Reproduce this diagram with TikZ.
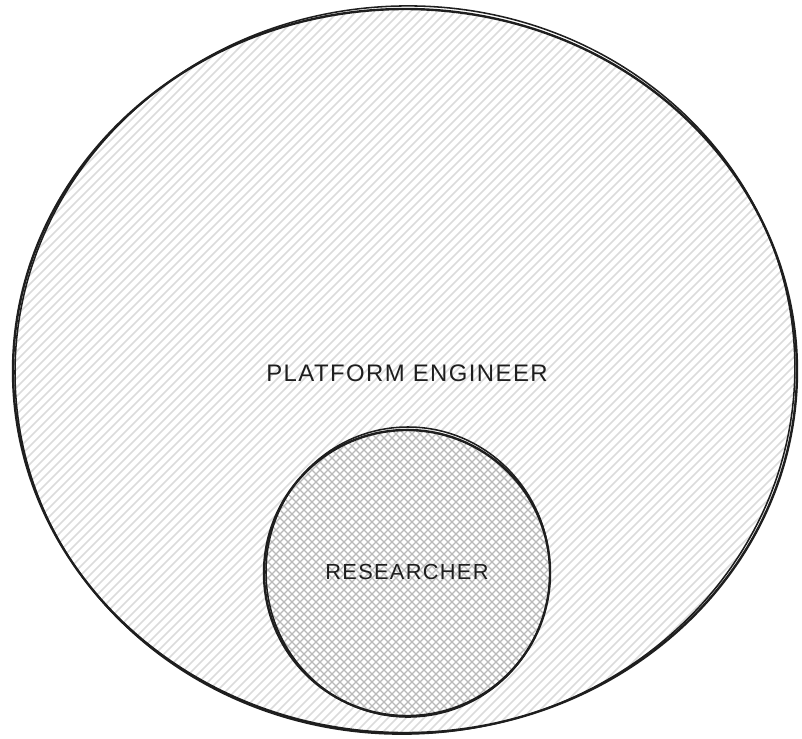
\documentclass[tikz,border=0pt]{standalone}
\usepackage{fontspec}
\setmainfont{Liberation Sans}
\newfontfamily\labelfont[LetterSpace=6]{Liberation Sans}
\definecolor{ink}{HTML}{1E1E1E}
\tikzset{
  outline/.style={draw=ink, line width=1.7pt},
  hatch/.style={gray!28, line width=1.1pt},
  crosshatch/.style={gray!55, line width=0.9pt},
  setlabel/.style={text=ink, font=\labelfont\fontsize{17}{20}\selectfont}
}
\begin{document}
\begin{tikzpicture}[x=0.025cm, y=-0.025cm]
    \useasboundingbox (0,0) rectangle (802,738);
    \begin{scope}
        \clip (405,371) ellipse [x radius=392, y radius=362];
        \foreach \k in {-770,-761,...,810}
            \draw[hatch] (\k,760) -- ++(780,-780);
    \end{scope}
    \fill[white] (407,573) circle [radius=143];
    \begin{scope}
        \clip (407,573) circle [radius=143];
        \foreach \k in {-20,-12,...,600}
            \draw[crosshatch] (\k,730) -- ++(330,-330);
        \foreach \k in {220,228,...,840}
            \draw[crosshatch] (\k,730) -- ++(-330,-330);
    \end{scope}
    \draw[outline] (405,371) ellipse [x radius=392, y radius=362];
    \draw[draw=ink, line width=1.1pt, rotate around={3:(405,371)}] (405,370) ellipse [x radius=390, y radius=364];
    \draw[outline] (407,573) circle [radius=143];
    \draw[draw=ink, line width=1.1pt] (408,572) ellipse [x radius=142, y radius=145];
    \node[setlabel] (platform) at (407,373) {PLATFORM ENGINEER};
    \node[setlabel, font=\labelfont\fontsize{15.5}{18}\selectfont] (researcher) at (407,572) {RESEARCHER};
\end{tikzpicture}
\end{document}
